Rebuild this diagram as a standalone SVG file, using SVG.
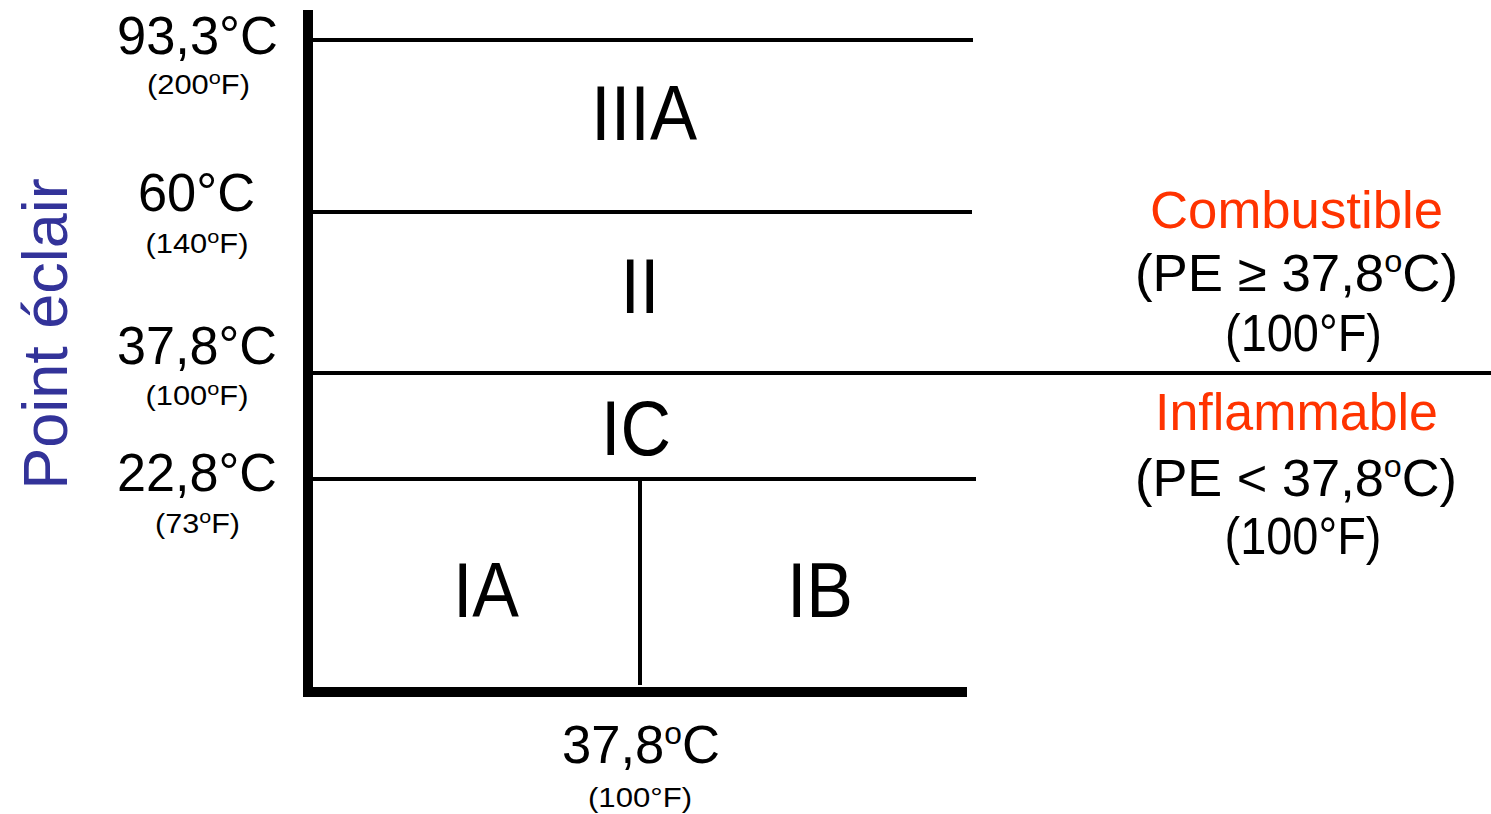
<svg xmlns="http://www.w3.org/2000/svg" width="1491" height="814" viewBox="0 0 1491 814">
<style>
text{font-family:"Liberation Sans",Arial,sans-serif;fill:#000;text-anchor:middle}
.big{font-size:53px}
.sm{font-size:27px}
.cls{font-size:70px}
.red{fill:#ff3300;font-size:51px}
.rt{font-size:52px}
.ax{fill:#333399;font-size:63px}
.ln{stroke:#000;stroke-width:4;fill:none}
</style>
<rect width="1491" height="814" fill="#fff"/>
<g id="connectors">
<path d="M308,10 V692 H967" stroke="#000" stroke-width="10" fill="none" stroke-linejoin="miter"/>
<line class="ln" x1="313" y1="40" x2="973" y2="40"/>
<line class="ln" x1="313" y1="212" x2="972" y2="212"/>
<line class="ln" x1="313" y1="373" x2="1491" y2="373"/>
<line class="ln" x1="313" y1="479" x2="976" y2="479"/>
<line class="ln" x1="640" y1="479" x2="640" y2="685" stroke-width="5"/>
</g>
<g id="axis-label"><text class="ax" transform="translate(67,334) rotate(-90)">Point éclair</text></g>
<g id="t93"><text class="big" x="197.5" y="54" textLength="161" lengthAdjust="spacingAndGlyphs">93,3°C</text>
<text class="sm" x="198.5" y="94" textLength="103" lengthAdjust="spacingAndGlyphs">(200<tspan font-size="19" dy="-10">o</tspan><tspan dy="10">F)</tspan></text></g>
<g id="t60"><text class="big" x="196.5" y="211" textLength="117" lengthAdjust="spacingAndGlyphs">60°C</text>
<text class="sm" x="197" y="253" textLength="103" lengthAdjust="spacingAndGlyphs">(140<tspan font-size="19" dy="-10">o</tspan><tspan dy="10">F)</tspan></text></g>
<g id="t378"><text class="big" x="197" y="364" textLength="160" lengthAdjust="spacingAndGlyphs">37,8°C</text>
<text class="sm" x="197" y="405" textLength="103" lengthAdjust="spacingAndGlyphs">(100<tspan font-size="19" dy="-10">o</tspan><tspan dy="10">F)</tspan></text></g>
<g id="t228"><text class="big" x="197" y="491" textLength="160" lengthAdjust="spacingAndGlyphs">22,8°C</text>
<text class="sm" x="197.5" y="533" textLength="85" lengthAdjust="spacingAndGlyphs">(73<tspan font-size="19" dy="-10">o</tspan><tspan dy="10">F)</tspan></text></g>
<g id="IIIA"><text class="cls" transform="translate(644,140) scale(1,1.1)" textLength="106" lengthAdjust="spacingAndGlyphs">IIIA</text></g>
<g id="II"><text class="cls" transform="translate(640,313) scale(1,1.1)">II</text></g>
<g id="IC"><text class="cls" transform="translate(636,455) scale(1,1.1)">IC</text></g>
<g id="IA"><text class="cls" transform="translate(486,617) scale(1,1.1)">IA</text></g>
<g id="IB"><text class="cls" transform="translate(820,617) scale(1,1.1)">IB</text></g>
<g id="bottom"><text class="big" x="641" y="763" font-size="50" textLength="158" lengthAdjust="spacingAndGlyphs">37,8<tspan font-size="32" dy="-19">o</tspan><tspan dy="19">C</tspan></text>
<text class="sm" x="640" y="807" textLength="104" lengthAdjust="spacingAndGlyphs">(100°F)</text></g>
<g id="combustible"><text class="red" x="1296.5" y="228" textLength="293" lengthAdjust="spacingAndGlyphs">Combustible</text>
<text class="rt" x="1296.5" y="291" textLength="323" lengthAdjust="spacingAndGlyphs">(PE ≥ 37,8<tspan font-size="32" dy="-19">o</tspan><tspan dy="19">C)</tspan></text>
<text class="rt" x="1303.5" y="351" font-size="48" textLength="157" lengthAdjust="spacingAndGlyphs">(100°F)</text></g>
<g id="inflammable"><text class="red" x="1296.5" y="430" textLength="283" lengthAdjust="spacingAndGlyphs">Inflammable</text>
<text class="rt" x="1296" y="496" textLength="322" lengthAdjust="spacingAndGlyphs">(PE &lt; 37,8<tspan font-size="32" dy="-19">o</tspan><tspan dy="19">C)</tspan></text>
<text class="rt" x="1303" y="554" font-size="48" textLength="157" lengthAdjust="spacingAndGlyphs">(100°F)</text></g>
</svg>
